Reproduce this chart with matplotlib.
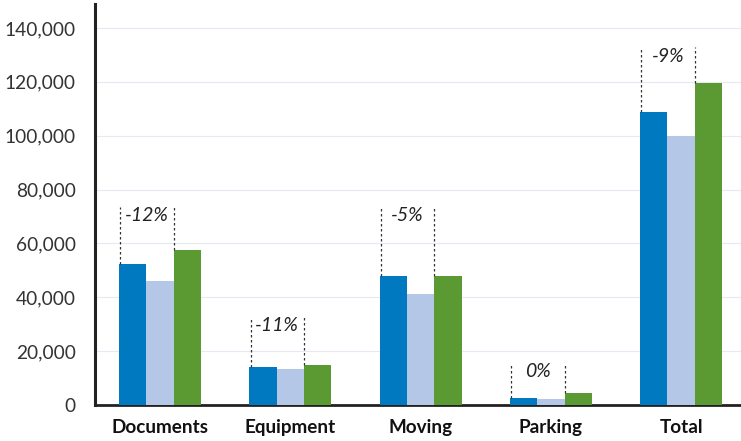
import matplotlib
matplotlib.use("Agg")
import matplotlib.pyplot as plt
import numpy as np

categories = ["Documents", "Equipment", "Moving", "Parking", "Total"]
series_a = [52300, 14100, 47900, 2500, 108800]
series_b = [46000, 13400, 41200, 2100, 99800]
series_c = [57500, 14800, 47900, 4600, 119700]
change_labels = ["-12%", "-11%", "-5%", "0%", "-9%"]
bracket_tops = [73500, 32700, 73500, 15600, 132800]
yticks = [0, 20000, 40000, 60000, 80000, 100000, 120000, 140000]

plt.rcParams['font.family'] = ['Lato', 'DejaVu Sans']

fig = plt.figure(figsize=(7.41, 4.41), dpi=100)
ax = fig.add_axes([95/741, 36/441, 646/741, 401/441])

x = np.arange(len(categories))
w = 0.21
colors = ["#0079C1", "#B4C7E7", "#5B9A32"]
ax.bar(x - w, series_a, w, color=colors[0], zorder=3)
ax.bar(x, series_b, w, color=colors[1], zorder=3)
ax.bar(x + w, series_c, w, color=colors[2], zorder=3)

for i in range(len(categories)):
    xl = x[i] - 1.5 * w + 0.01
    xr = x[i] + 0.5 * w
    top = bracket_tops[i]
    ax.plot([xl, xl], [series_a[i], top], ls=(0, (2, 2)), color="#333333", lw=0.9, zorder=4)
    ax.plot([xr, xr], [series_c[i], top], ls=(0, (2, 2)), color="#333333", lw=0.9, zorder=4)
    ax.text((xl + xr) / 2, top - 3300, change_labels[i], ha="center", va="center",
            fontsize=14, style="italic", color="#222222", zorder=5)

ax.set_xlim(-0.5, 4.46)
ax.set_ylim(0, 148900)
ax.set_yticks(yticks)
ax.set_yticklabels([f"{v:,}" for v in yticks], fontsize=13.8, color="#333333")
ax.set_xticks(x)
ax.set_xticklabels(categories, fontsize=13.6, fontweight="bold", color="#111111")
ax.tick_params(axis="both", length=0)
ax.tick_params(axis="y", pad=14)
ax.tick_params(axis="x", pad=10)
ax.grid(axis="y", color="#E3EAF4", lw=0.8, zorder=0)
for s in ["top", "right"]:
    ax.spines[s].set_visible(False)
ax.spines["left"].set_color("#222222")
ax.spines["left"].set_linewidth(2.2)
ax.spines["bottom"].set_color("#222222")
ax.spines["bottom"].set_linewidth(2)

fig.savefig("out.png", dpi=100)
